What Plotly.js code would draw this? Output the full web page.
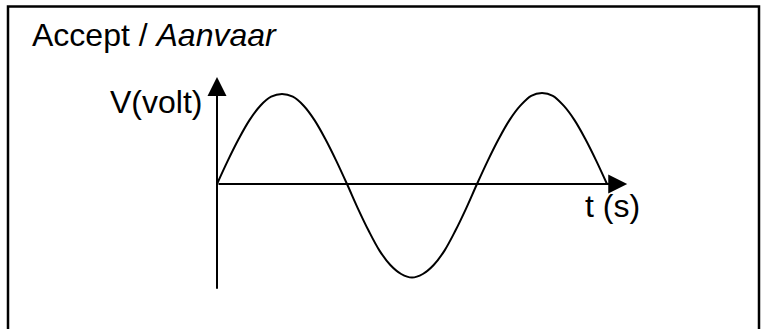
<!DOCTYPE html>
<html>
<head>
<meta charset="utf-8">
<script src="https://cdn.plot.ly/plotly-3.0.1.min.js"></script>
<style>
  html, body { margin: 0; padding: 0; background: #ffffff; }
  #chart { width: 763px; height: 329px; }
</style>
</head>
<body>
<div id="chart"></div>
<script>
// ---- data (phase in degrees along the time axis, voltage in relative units) ----
var timePhase = [0, 15, 30, 45, 60, 75, 90, 105, 120, 135, 150, 165,
                 180, 195, 210, 225, 240, 255, 270, 285, 300, 315, 330, 345,
                 360, 375, 390, 405, 420, 435, 450, 465, 480, 495, 510, 525, 540];
var voltage   = [0, 0.26, 0.5, 0.71, 0.87, 0.97, 1.0, 0.97, 0.87, 0.71, 0.5, 0.26,
                 0, -0.27, -0.52, -0.74, -0.9, -1.0, -1.04, -1.0, -0.9, -0.74, -0.52, -0.27,
                 0, 0.26, 0.5, 0.71, 0.87, 0.98, 1.01, 0.98, 0.87, 0.71, 0.5, 0.26, 0];

var titleText = 'Accept / <i>Aanvaar</i>';
var yLabel = 'V(volt)';
var xLabel = 't (s)';

// axis extents (arrow tips / ends), in data units
var tAxisEnd = 568;
var vAxisTop = 1.19;
var vAxisBottom = -1.18;

// ---- layout geometry (pixels) ----
var W = 763, H = 329;
var originPx = {x: 217, y: 184};
var pxPerT = 65 / 90;
var pxPerV = 90;

var xRange = [(0 - originPx.x) / pxPerT, (W - originPx.x) / pxPerT];
var yRange = [-(H - originPx.y) / pxPerV, originPx.y / pxPerV];

function px2paperX(px) { return px / W; }
function px2paperY(py) { return 1 - py / H; }

var font = 'Arial, "Liberation Sans", sans-serif';

var trace = {
  x: timePhase,
  y: voltage,
  type: 'scatter',
  mode: 'lines',
  line: {color: '#000000', width: 2, shape: 'spline', smoothing: 1},
  hoverinfo: 'skip',
  showlegend: false
};

var layout = {
  width: W,
  height: H,
  margin: {l: 0, r: 0, t: 0, b: 0, pad: 0},
  paper_bgcolor: '#ffffff',
  plot_bgcolor: '#ffffff',
  showlegend: false,
  xaxis: {range: xRange, visible: false, fixedrange: true},
  yaxis: {range: yRange, visible: false, fixedrange: true},
  shapes: [
    {type: 'rect', xref: 'paper', yref: 'paper',
     x0: px2paperX(8), x1: px2paperX(759), y0: px2paperY(6.5), y1: px2paperY(345),
     line: {color: '#000000', width: 2.5}, fillcolor: 'rgba(0,0,0,0)', layer: 'below'}
  ],
  annotations: [
    // vertical axis with arrow
    {x: 0, y: vAxisTop, xref: 'x', yref: 'y', ax: 0, ay: vAxisBottom, axref: 'x', ayref: 'y',
     text: '', showarrow: true, arrowhead: 2, arrowsize: 1.9, arrowwidth: 2, arrowcolor: '#000000', standoff: 0},
    // horizontal axis with arrow
    {x: tAxisEnd, y: 0, xref: 'x', yref: 'y', ax: 0, ay: 0, axref: 'x', ayref: 'y',
     text: '', showarrow: true, arrowhead: 2, arrowsize: 1.9, arrowwidth: 2, arrowcolor: '#000000', standoff: 0},
    // title text
    {x: px2paperX(30), y: px2paperY(35), xref: 'paper', yref: 'paper', xanchor: 'left', yanchor: 'middle',
     text: titleText, showarrow: false, font: {family: font, size: 32, color: '#000000'}},
    // y label
    {x: px2paperX(204), y: px2paperY(102), xref: 'paper', yref: 'paper', xanchor: 'right', yanchor: 'middle',
     text: yLabel, showarrow: false, font: {family: font, size: 32, color: '#000000'}},
    // x label
    {x: px2paperX(583), y: px2paperY(206), xref: 'paper', yref: 'paper', xanchor: 'left', yanchor: 'middle',
     text: xLabel, showarrow: false, font: {family: font, size: 32, color: '#000000'}}
  ]
};

Plotly.newPlot('chart', [trace], layout, {staticPlot: true, displayModeBar: false});
</script>
</body>
</html>
